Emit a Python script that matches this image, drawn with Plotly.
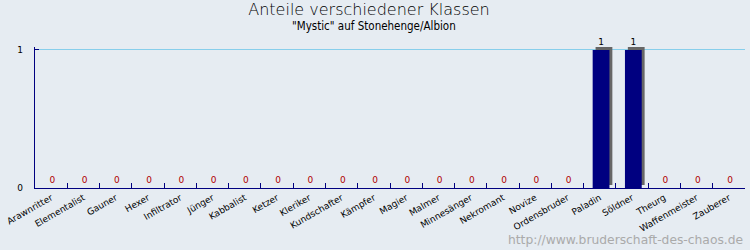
import plotly.graph_objects as go

categories = ["Arawnritter", "Elementalist", "Gauner", "Hexer", "Infiltrator", "Jünger",
              "Kabbalist", "Ketzer", "Kleriker", "Kundschafter", "Kämpfer", "Magier",
              "Malmer", "Minnesänger", "Nekromant", "Novize", "Ordensbruder", "Paladin",
              "Söldner", "Theurg", "Waffenmeister", "Zauberer"]
values = [0, 0, 0, 0, 0, 0, 0, 0, 0, 0, 0, 0, 0, 0, 0, 0, 0, 1, 1, 0, 0, 0]

title = "Anteile verschiedener Klassen"
subtitle = "\"Mystic\" auf Stonehenge/Albion"
watermark = "http://www.bruderschaft-des-chaos.de"

navy = "#000080"
bg = "#E6ECF2"

label_colors = ["#000000" if v > 0 else "#B00000" for v in values]

fig = go.Figure()
# shadow
fig.add_trace(go.Bar(
    x=categories, y=values, base=[0.022 if v > 0 else 0 for v in values],
    marker=dict(color="#666666", line=dict(width=0)),
    width=0.52, offset=-0.13, hoverinfo="skip", showlegend=False,
    cliponaxis=False,
))
fig.add_trace(go.Bar(
    x=categories, y=values,
    marker=dict(color=navy, line=dict(width=0)),
    width=0.52, offset=-0.22,
    text=[str(v) for v in values], textposition="outside",
    textfont=dict(color=label_colors, size=9, family="DejaVu Sans"),
    cliponaxis=False, showlegend=False,
))

fig.update_layout(
    width=750, height=250,
    margin=dict(l=30, r=5, t=47, b=62),
    paper_bgcolor=bg, plot_bgcolor=bg,
    barmode="overlay",
    font=dict(family="DejaVu Sans", size=9, color="#000000"),
    title=dict(text=title, x=0.492, xanchor="center", y=0.962, yanchor="middle",
               font=dict(family="DejaVu Sans", size=16, color="#000000", weight=200)),
    annotations=[
        dict(text=subtitle, xref="paper", yref="paper", x=0.477, y=1.0, yshift=21,
             xanchor="center", yanchor="middle", showarrow=False,
             font=dict(family="DejaVu Sans Condensed", size=11.5, color="#000000")),
        dict(text=watermark, xref="paper", yref="paper", x=1, y=0, yshift=-52,
             xanchor="right", yanchor="middle", showarrow=False,
             font=dict(family="DejaVu Sans", size=12.3, color="#AAAAAA")),
    ],
    xaxis=dict(
        showline=True, linecolor=navy, linewidth=1.2,
        ticks="inside", tickson="boundaries", ticklen=5, tickcolor=navy, tickwidth=1.2,
        tickangle=-30, tickfont=dict(size=9, family="DejaVu Sans", color="#000000"),
        showgrid=False, zeroline=False,
    ),
    yaxis=dict(
        range=[0, 1.0217], tickvals=[0, 1], ticktext=["0", "1"],
        showline=True, linecolor=navy, linewidth=1.2,
        ticks="inside", ticklen=4, tickcolor=navy,
        showgrid=True, gridcolor="#87CEEB", gridwidth=1.2, zeroline=False,
        tickfont=dict(size=9, family="DejaVu Sans", color="#000000"),
        ticklabelstandoff=9,
    ),
)

fig.write_html("out.html")
